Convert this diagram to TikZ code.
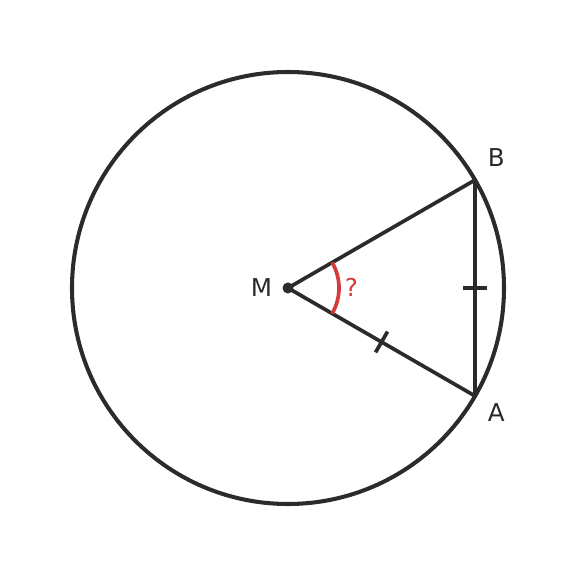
\documentclass[tikz,border=0pt]{standalone}
\usepackage{fontspec}
\setmainfont{DejaVu Sans}
\usepackage{tikz}
\usetikzlibrary{positioning, decorations.markings}
\definecolor{ink}{HTML}{2B2B2D}
\definecolor{anglered}{HTML}{D63A3A}

\begin{document}
\begin{tikzpicture}[line width = 2.1pt, draw = ink,
    tick inside/.style =
         {
             postaction={decorate},
             decoration={markings, mark=at position 0.5 with {\draw[line width = 2.1pt, ink] (0,-0.24) -- (0,0.24);}}
         },
    lbl/.style = {text = ink, font = \fontsize{14pt}{16pt}\selectfont, inner sep = 0pt}]
      \useasboundingbox (-5.76,-5.76) rectangle (5.76,5.76);

      \coordinate (M) at (0,0);
      \coordinate (B) at (30:4.32);
      \coordinate (A) at (-30:4.32);

      \draw[line width = 2.3pt] (M) circle (4.32);

      \draw (M) -- (B);
      \draw[tick inside] (M) -- (A);
      \draw[tick inside] (A) -- (B);

      \draw[anglered, line width = 2.1pt] (-30:1.02) arc (-30:30:1.02);

      \fill[ink] (M) circle (0.11);

      \node[lbl, left = 0.28 of M] (labelM) {M};
      \node[lbl, above right = 0.24 and 0.22 of B] (labelB) {B};
      \node[lbl, below right = 0.12 and 0.22 of A] (labelA) {A};
      \node[lbl, text = anglered] (question) at (1.27,0.02) {?};
    \end{tikzpicture}
\end{document}
